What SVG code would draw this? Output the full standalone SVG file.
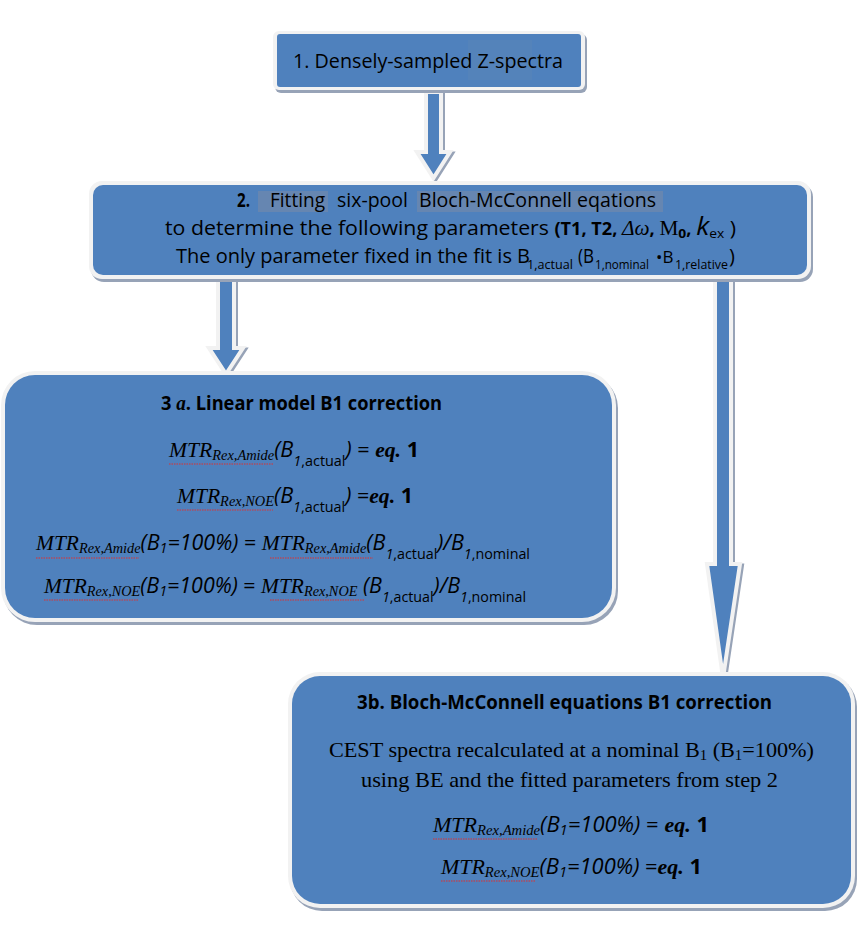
<svg xmlns="http://www.w3.org/2000/svg" width="863" height="937" viewBox="0 0 863 937">
<defs>
<style>
.shadow{fill:#97A3B7}
.rim{fill:#F2F2F2}
.box{fill:#4F81BD}
.hl{fill:#6686B1}
.arrow{fill:#4F81BD;stroke:#F2F2F2;stroke-width:4;stroke-linejoin:miter}
.ashadow{fill:none;stroke:#97A3B7;stroke-width:4}
text{fill:#000}
.s{font-family:"Open Sans","Liberation Sans",sans-serif}
.sb{font-family:"Open Sans","Liberation Sans",sans-serif;font-weight:bold}
.si{font-family:"Open Sans","Liberation Sans",sans-serif;font-style:italic}
.r{font-family:"Liberation Serif","Times New Roman",serif}
.ri{font-family:"Liberation Serif","Times New Roman",serif;font-style:italic}
.rbi{font-family:"Liberation Serif","Times New Roman",serif;font-style:italic;font-weight:bold}
.sq{fill:none;stroke:#E03030;stroke-width:1.2;stroke-dasharray:1.5 1}
</style>
</defs>
<rect width="863" height="937" fill="#FFFFFF"/>

<g id="connectors">
  <polygon class="ashadow" transform="translate(2,1.5)" points="426,92 441,92 441,152 450,152 433.5,178 417,152 426,152"/>
  <polygon class="arrow" points="426,92 441,92 441,152 450,152 433.5,178 417,152 426,152"/>
  <polygon class="ashadow" transform="translate(2,1.5)" points="218,272 234,272 234,348 243,348 226,374 209,348 218,348"/>
  <polygon class="arrow" points="218,272 234,272 234,348 243,348 226,374 209,348 218,348"/>
  <polygon class="ashadow" transform="translate(2,1.5)" points="715,272 731,272 731,564 740,564 723,678 707,564 715,564"/>
  <polygon class="arrow" points="715,272 731,272 731,564 740,564 723,678 707,564 715,564"/>
</g>

<g id="node1">
  <rect class="shadow" x="275" y="34" width="312" height="59" rx="6"/>
  <rect class="rim" x="273" y="31" width="312" height="59" rx="6"/>
  <rect class="box" x="277" y="34" width="304" height="53" rx="3"/>
  <rect x="468" y="40" width="64" height="40" fill="#5483BA"/>
  <text class="s" x="293" y="68" font-size="20" textLength="270" lengthAdjust="spacingAndGlyphs">1. Densely-sampled Z-spectra</text>
</g>

<g id="node2">
  <rect class="shadow" x="91" y="184" width="722" height="98" rx="13"/>
  <rect class="rim" x="89" y="181" width="722" height="98" rx="13"/>
  <rect class="box" x="93" y="185" width="714" height="90" rx="10"/>
  <rect class="hl" x="258" y="191" width="70" height="21"/>
  <rect class="hl" x="417" y="191" width="246" height="21"/>
  <text class="sb" x="237" y="207" font-size="20" textLength="13" lengthAdjust="spacingAndGlyphs">2.</text>
  <text class="s" x="270" y="207" font-size="20" textLength="55" lengthAdjust="spacingAndGlyphs">Fitting</text>
  <text class="s" x="337" y="207" font-size="20" textLength="71" lengthAdjust="spacingAndGlyphs">six-pool</text>
  <text class="s" x="419" y="207" font-size="20" textLength="237" lengthAdjust="spacingAndGlyphs">Bloch-McConnell eqations</text>
  <text class="s" x="165" y="235" font-size="20" textLength="571" lengthAdjust="spacingAndGlyphs">to determine the following parameters <tspan class="sb" font-size="17">(T1, T2, </tspan><tspan class="ri" font-size="20">Δω</tspan><tspan class="sb" font-size="17">, </tspan><tspan class="r" font-size="20">M</tspan><tspan class="sb" font-size="13" dy="3">0</tspan><tspan class="sb" font-size="17" dy="-3">, </tspan><tspan class="si" font-size="25">k</tspan><tspan font-size="13" dy="3">ex</tspan><tspan font-size="20" dy="-3"> )</tspan></text>
  <text class="s" x="176" y="263" font-size="20" textLength="354" lengthAdjust="spacingAndGlyphs">The only parameter fixed in the fit is B</text>
  <text class="s" x="527" y="269" font-size="13" textLength="46" lengthAdjust="spacingAndGlyphs">1,actual</text>
  <text class="s" x="578" y="263" font-size="20" textLength="16" lengthAdjust="spacingAndGlyphs">(B</text>
  <text class="s" x="595" y="269" font-size="13" textLength="54" lengthAdjust="spacingAndGlyphs">1,nominal</text>
  <text class="s" x="656" y="263" font-size="17">•B</text>
  <text class="s" x="675" y="269" font-size="13" textLength="53" lengthAdjust="spacingAndGlyphs">1,relative</text>
  <text class="s" x="729" y="263" font-size="20">)</text>
</g>

<g id="node3a">
  <rect class="shadow" x="3" y="374" width="615" height="251" rx="34"/>
  <rect class="rim" x="1" y="371" width="615" height="251" rx="34"/>
  <rect class="box" x="5" y="375" width="607" height="243" rx="30"/>
  <text class="sb" x="161" y="410" font-size="19" textLength="281" lengthAdjust="spacingAndGlyphs">3 <tspan class="rbi" font-size="20">a</tspan>. Linear model B1 correction</text>
  <text x="169" y="457" font-size="21" textLength="250" lengthAdjust="spacingAndGlyphs"><tspan class="ri">MTR</tspan><tspan class="ri" font-size="14" dy="3">Rex,Amide</tspan><tspan class="si" dy="-3">(B</tspan><tspan class="s" font-size="14" dy="9"><tspan class="si">1</tspan>,actual</tspan><tspan class="si" dy="-9">) </tspan><tspan class="s">= </tspan><tspan class="rbi">eq.</tspan><tspan class="sb"> 1</tspan></text>
  <text x="177" y="503" font-size="21" textLength="236" lengthAdjust="spacingAndGlyphs"><tspan class="ri">MTR</tspan><tspan class="ri" font-size="14" dy="3">Rex,NOE</tspan><tspan class="si" dy="-3">(B</tspan><tspan class="s" font-size="14" dy="9"><tspan class="si">1</tspan>,actual</tspan><tspan class="si" dy="-9">) </tspan><tspan class="s">=</tspan><tspan class="rbi">eq.</tspan><tspan class="sb"> 1</tspan></text>
  <text x="36" y="550" font-size="21" textLength="494" lengthAdjust="spacingAndGlyphs"><tspan class="ri">MTR</tspan><tspan class="ri" font-size="14" dy="3">Rex,Amide</tspan><tspan class="si" dy="-3">(B</tspan><tspan class="si" font-size="14" dy="3">1</tspan><tspan class="si" dy="-3">=100%) </tspan><tspan class="s"> = </tspan><tspan class="ri">MTR</tspan><tspan class="ri" font-size="14" dy="3">Rex,Amide</tspan><tspan class="si" dy="-3">(B</tspan><tspan class="s" font-size="14" dy="9"><tspan class="si">1</tspan>,actual</tspan><tspan class="si" dy="-9">)/B</tspan><tspan class="s" font-size="14" dy="9"><tspan class="si">1</tspan>,nominal</tspan></text>
  <text x="44" y="593" font-size="21" textLength="482" lengthAdjust="spacingAndGlyphs"><tspan class="ri">MTR</tspan><tspan class="ri" font-size="14" dy="3">Rex,NOE</tspan><tspan class="si" dy="-3">(B</tspan><tspan class="si" font-size="14" dy="3">1</tspan><tspan class="si" dy="-3">=100%) </tspan><tspan class="s"> = </tspan><tspan class="ri">MTR</tspan><tspan class="ri" font-size="14" dy="3">Rex,NOE</tspan><tspan class="si" dy="-3"> (B</tspan><tspan class="s" font-size="14" dy="9"><tspan class="si">1</tspan>,actual</tspan><tspan class="si" dy="-9">)/B</tspan><tspan class="s" font-size="14" dy="9"><tspan class="si">1</tspan>,nominal</tspan></text>
  <path class="sq" d="M169,464 H274 M177,510 H273 M36,558 H139 M270,558 H373 M44,600 H139 M270,600 H364"/>
</g>

<g id="node3b">
  <rect class="shadow" x="290" y="675" width="567" height="236" rx="32"/>
  <rect class="rim" x="288" y="672" width="567" height="236" rx="32"/>
  <rect class="box" x="292" y="676" width="559" height="228" rx="28"/>
  <text class="sb" x="357" y="709" font-size="19" textLength="415" lengthAdjust="spacingAndGlyphs">3b. Bloch-McConnell  equations B1 correction</text>
  <text class="r" x="329" y="757" font-size="21" textLength="485" lengthAdjust="spacingAndGlyphs">CEST spectra recalculated at a nominal B<tspan font-size="14" dy="3">1</tspan><tspan dy="-3"> (B</tspan><tspan font-size="14" dy="3">1</tspan><tspan dy="-3">=100%)</tspan></text>
  <text class="r" x="361" y="787" font-size="21" textLength="417" lengthAdjust="spacingAndGlyphs">using BE and the fitted parameters from step 2</text>
  <text x="433" y="832" font-size="21" textLength="276" lengthAdjust="spacingAndGlyphs"><tspan class="ri">MTR</tspan><tspan class="ri" font-size="14" dy="3">Rex,Amide</tspan><tspan class="si" dy="-3">(B</tspan><tspan class="si" font-size="14" dy="3">1</tspan><tspan class="si" dy="-3">=100%) </tspan><tspan class="s"> = </tspan><tspan class="rbi">eq.</tspan><tspan class="sb"> 1</tspan></text>
  <text x="441" y="874" font-size="21" textLength="261" lengthAdjust="spacingAndGlyphs"><tspan class="ri">MTR</tspan><tspan class="ri" font-size="14" dy="3">Rex,NOE</tspan><tspan class="si" dy="-3">(B</tspan><tspan class="si" font-size="14" dy="3">1</tspan><tspan class="si" dy="-3">=100%) </tspan><tspan class="s"> =</tspan><tspan class="rbi">eq.</tspan><tspan class="sb"> 1</tspan></text>
  <path class="sq" d="M433,839 H538 M441,881 H536"/>
</g>
</svg>
